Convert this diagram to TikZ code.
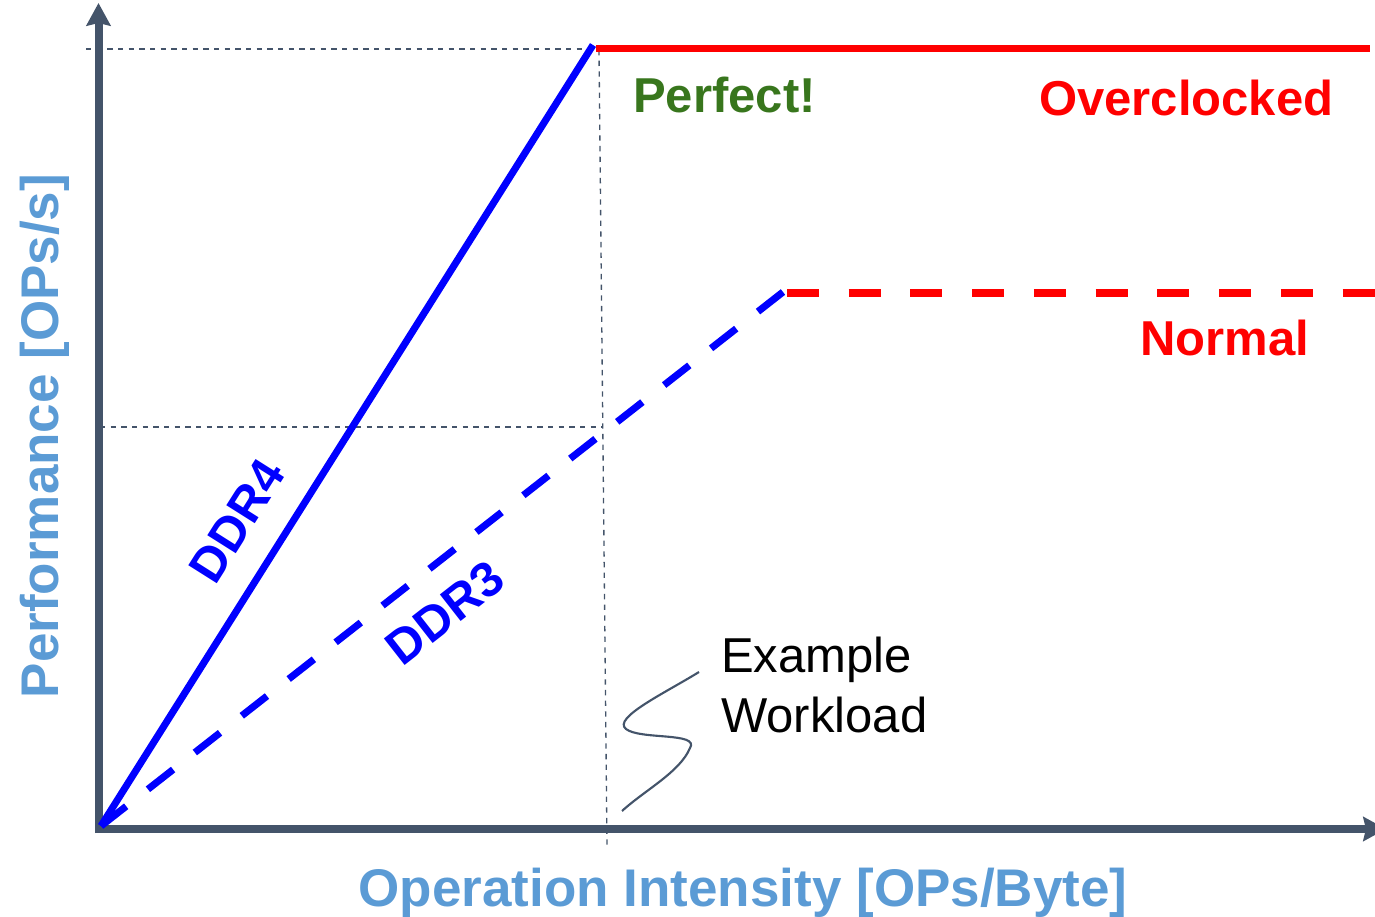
\documentclass[tikz,border=0pt]{standalone}
\usepackage{fontspec}
\setmainfont{Liberation Sans}
\usetikzlibrary{arrows.meta}
\definecolor{axisc}{HTML}{44546A}
\definecolor{labc}{HTML}{5B9BD5}
\definecolor{perfc}{HTML}{38761D}
\definecolor{bluec}{HTML}{0000FF}
\definecolor{redc}{HTML}{FF0000}
\tikzset{
  axisline/.style={draw=axisc, line width=6pt, -{Stealth[length=17pt,width=18pt,inset=2pt]}},
  guide/.style={draw=axisc, line width=1pt, dash pattern=on 4pt off 4pt},
  solidline/.style={line width=5.3pt},
  dashline/.style={line width=5.3pt, dash pattern=on 24pt off 20.7pt},
  reddash/.style={line width=5.3pt, dash pattern=on 24pt off 22.3pt},
  biglabel/.style={inner sep=0pt, font=\fontsize{36.75pt}{44pt}\selectfont\bfseries},
  axislabel/.style={inner sep=0pt, text=labc, font=\fontsize{39.75pt}{46pt}\selectfont\bfseries},
  note/.style={inner sep=0pt, font=\fontsize{36.75pt}{44pt}\selectfont},
}
\begin{document}
\begin{tikzpicture}[x=0.75pt,y=-0.75pt]
\useasboundingbox (0,0) rectangle (1375,917);
% key points
\coordinate (O) at (101,826);
\coordinate (ddr4top) at (593,45);
\coordinate (ocstart) at (596,48.5);
\coordinate (ocend) at (1370,48.5);
\coordinate (ddr3top) at (783,292);
\coordinate (nstart) at (787,293);
\coordinate (nend) at (1375,293);
% guides
\coordinate (g1a) at (86,49);
\coordinate (g1b) at (598,49);
\coordinate (g2a) at (100,427);
\coordinate (g2b) at (603,427);
\coordinate (gva) at (599,50);
\coordinate (gvb) at (607,845);
\draw[guide] (g1a) -- (g1b);
\draw[guide] (g2a) -- (g2b);
\draw[guide] (gva) -- (gvb);
% axes
\coordinate (yb) at (98.5,833);
\coordinate (yt) at (98.5,3);
\coordinate (xl) at (95,829);
\coordinate (xr) at (1386,829);
\draw[axisline] (yb) -- (yt);
\draw[axisline] (xl) -- (xr);
% lines
\draw[solidline, bluec] (O) -- (ddr4top);
\draw[solidline, redc] (ocstart) -- (ocend);
\draw[dashline, bluec] (O) -- (ddr3top);
\draw[reddash, redc] (nstart) -- (nend);
% squiggle
\coordinate (s1) at (699,672);
\coordinate (s2) at (626,729);
\coordinate (s3) at (690,748);
\coordinate (s4) at (622,811);
\draw[axisc, line width=1.6pt] (s1) .. controls (665,693) and (612,718) .. (s2)
  .. controls (640,740) and (700,732) .. (s3)
  .. controls (680,772) and (645,790) .. (s4);
% labels
\node[biglabel, text=perfc, anchor=base west] (perfect) at (633,113) {Perfect!};
\node[biglabel, text=redc, anchor=base west] (oc) at (1039,115) {Overclocked};
\node[biglabel, text=redc, anchor=base west] (normal) at (1140,355) {Normal};
\node[biglabel, text=bluec, rotate=57.7] (ddr4) at (237,521) {DDR4};
\node[biglabel, text=bluec, rotate=38] (ddr3) at (445,613) {DDR3};
\node[note, anchor=base west] (ex1) at (721,672) {Example};
\node[note, anchor=base west] (ex2) at (721,732) {Workload};
\node[axislabel, anchor=base] (xlab) at (743,906) {Operation Intensity [OPs/Byte]};
\node[axislabel, anchor=base, rotate=90] (ylab) at (58,436) {Performance [OPs/s]};
\end{tikzpicture}
\end{document}
